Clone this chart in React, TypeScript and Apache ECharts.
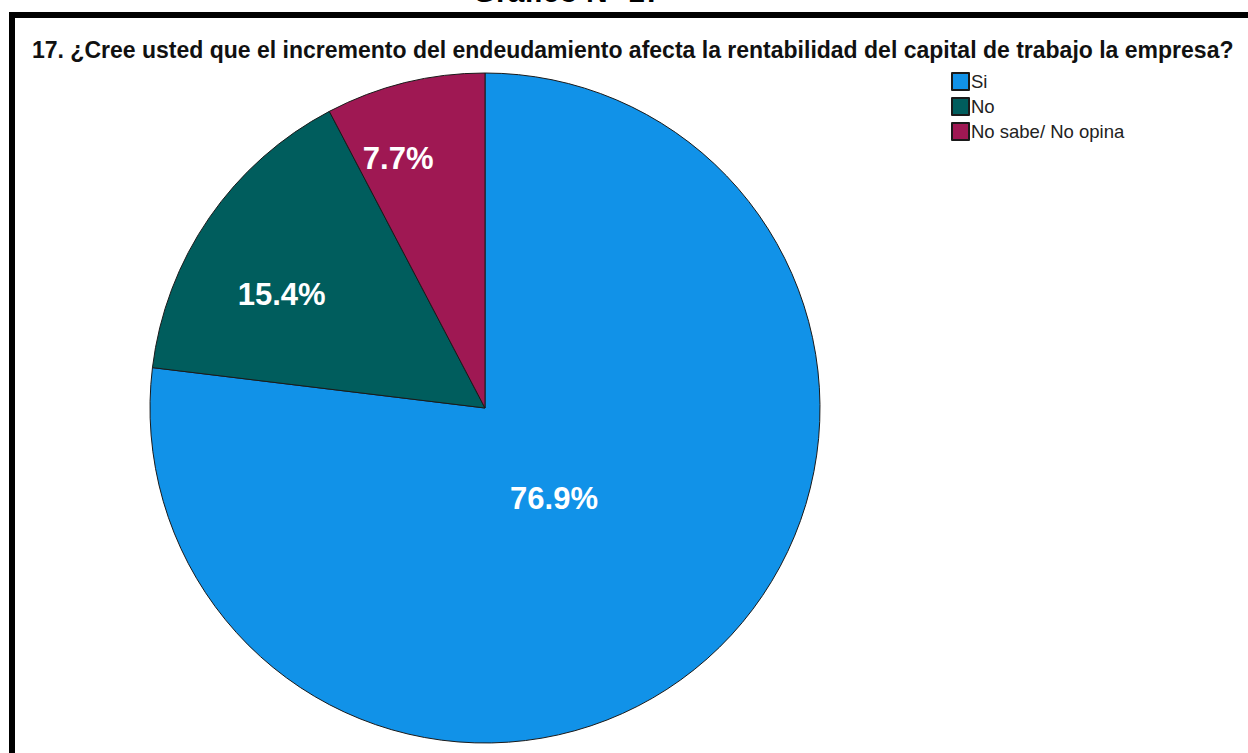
import React, { useEffect, useRef } from "react";
import * as echarts from "echarts";

const categories = ["Si", "No", "No sabe/ No opina"];
const counts = [10, 2, 1];
const colors = ["#1192e8", "#005d5d", "#9f1853"];
const labelOffsets: [number, number][] = [
  [-44, -37],
  [-63, -17],
  [-46, -84],
];
const questionTitle =
  "17. ¿Cree usted que el incremento del endeudamiento afecta la rentabilidad del capital de trabajo la empresa?";
const figureTitle = "Gráfico N° 17";

export default function App() {
  const ref = useRef<HTMLDivElement>(null);
  useEffect(() => {
    if (!ref.current) return;
    const chart = echarts.init(ref.current, undefined, { renderer: "svg" });
    const total = counts.reduce((a, b) => a + b, 0);
    chart.setOption({
      animation: false,
      backgroundColor: "#ffffff",
      graphic: [
        {
          type: "rect",
          shape: { x: 12, y: 15, width: 1300, height: 800 },
          style: { fill: "none", stroke: "#000000", lineWidth: 6 },
          z: 10,
        },
        {
          type: "text",
          x: 567,
          y: 6,
          style: {
            text: figureTitle,
            fontFamily: "Liberation Sans, Arial, sans-serif",
            fontWeight: "bold",
            fontSize: 30,
            fill: "#000",
            textAlign: "center",
            textVerticalAlign: "bottom",
          },
        },
        {
          type: "text",
          x: 32,
          y: 38,
          style: {
            text: questionTitle,
            fontFamily: "Liberation Sans, Arial, sans-serif",
            fontWeight: "bold",
            fontSize: 23,
            fill: "#111",
            textAlign: "left",
            textVerticalAlign: "top",
          },
        },
      ],
      legend: {
        orient: "vertical",
        left: 946,
        top: 67,
        itemWidth: 17,
        itemHeight: 17,
        itemGap: 6,
        icon: "rect",
        textStyle: {
          fontFamily: "Liberation Sans, Arial, sans-serif",
          fontSize: 18.5,
          lineHeight: 17,
          color: "#222",
          padding: [0, 0, 0, -3],
        },
        data: categories,
      },
      series: [
        {
          type: "pie",
          center: [485, 408],
          radius: 335,
          startAngle: 90,
          clockwise: true,
          itemStyle: { borderColor: "#1a1a1a", borderWidth: 1 },
          emphasis: { disabled: true },
          labelLine: { show: false },
          label: {
            show: true,
            position: "inside",
            color: "#ffffff",
            fontFamily: "Liberation Sans, Arial, sans-serif",
            fontWeight: "bold",
            fontSize: 31,
            formatter: (p: any) => ((p.value / total) * 100).toFixed(1) + "%",
          },
          data: categories.map((name, i) => ({
            name,
            value: counts[i],
            itemStyle: { color: colors[i], borderColor: "#1a1a1a", borderWidth: 1 },
            label: { offset: labelOffsets[i] },
          })),
        },
      ],
    });
    return () => chart.dispose();
  }, []);
  return (
    <div
      ref={ref}
      style={{ position: "absolute", left: 0, top: 0, width: 1248, height: 753 }}
    />
  );
}
